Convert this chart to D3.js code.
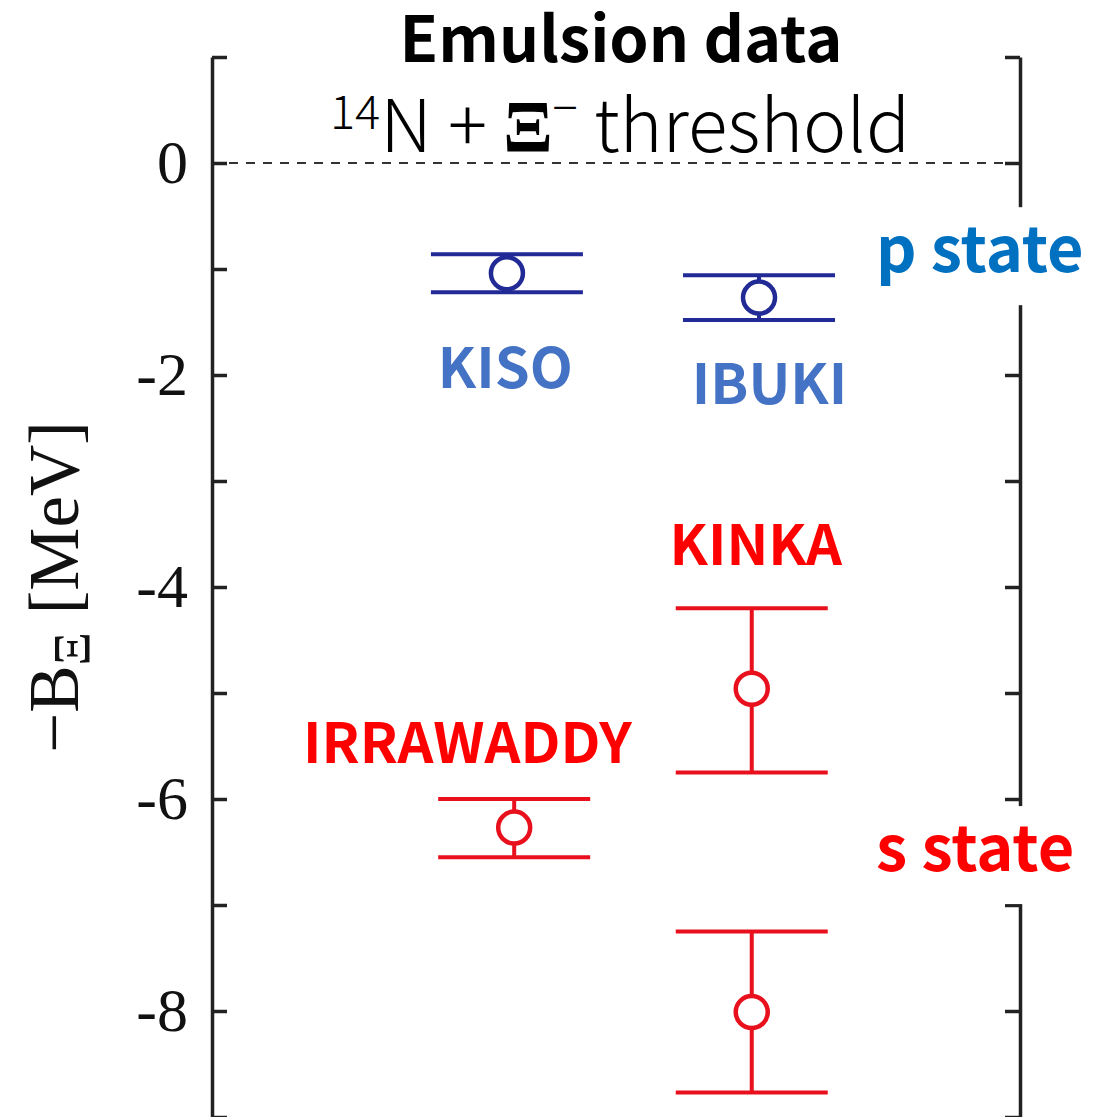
<!DOCTYPE html>
<html>
<head>
<meta charset="utf-8">
<script src="https://cdn.jsdelivr.net/npm/d3@7"></script>
<style>
  html, body { margin: 0; padding: 0; background: #fff; }
  svg { display: block; }
</style>
</head>
<body>
<svg id="chart" width="1099" height="1117"></svg>
<script>
// Xi-hypernuclear events in 14N (emulsion), binding energies with errors
const experiments = ["KISO", "IBUKI", "IRRAWADDY", "KINKA", ""];
const states      = ["p", "p", "s", "s", "s"];
const column      = [3.65, 6.77, 3.74, 6.68, 6.68];   // horizontal slot of each event
const energy      = [-1.04, -1.27, -6.27, -4.96, -8.01];
const upper       = [-0.86, -1.06, -6.00, -4.20, -7.25];
const lower       = [-1.22, -1.48, -6.55, -5.75, -8.77];

const yTickValues  = [1, 0, -1, -2, -3, -4, -5, -6, -7, -8, -9];
const yTickLabels  = [0, -2, -4, -6, -8];
const stateNames   = ["p state", "s state"];
const stateLevels  = [-1.03, -6.68];

const W = 1099, H = 1117;
const svg = d3.select("#chart");

const x = d3.scaleLinear().domain([0, 10]).range([212, 1020]);
const y = d3.scaleLinear().domain([-9, 1]).range([1117, 57]);

const colors = { p: "#222a96", s: "#e8101c" };
const labelColors = { p: "#4472c4", s: "#ff0000" };
const stateColors = { "p state": "#0070c0", "s state": "#ff0000" };

const AXIS = "#222";
const labelFont = "'Noto Sans CJK JP', 'Noto Sans', sans-serif";

// threshold line at zero binding energy
svg.append("line")
  .attr("x1", x(0)).attr("x2", x(10))
  .attr("y1", y(0)).attr("y2", y(0))
  .attr("stroke", "#333").attr("stroke-width", 2.2)
  .attr("stroke-dasharray", "9,8");

// left axis with inward ticks, labels on even values
const left = svg.append("g")
  .attr("transform", `translate(${x(0)},0)`)
  .call(d3.axisLeft(y)
    .tickValues(yTickValues)
    .tickSizeInner(-15).tickSizeOuter(0)
    .tickPadding(24)
    .tickFormat(d => yTickLabels.includes(d) ? String(d) : ""));

// right axis, ticks only
const right = svg.append("g")
  .attr("transform", `translate(${x(10)},0)`)
  .call(d3.axisRight(y)
    .tickValues(yTickValues)
    .tickSizeInner(-15).tickSizeOuter(0)
    .tickFormat(() => ""));

[left, right].forEach(g => {
  g.select(".domain").attr("stroke", AXIS).attr("stroke-width", 3.5);
  g.selectAll(".tick line").attr("stroke", AXIS).attr("stroke-width", 3.5);
  g.selectAll(".tick text")
    .attr("fill", "#111")
    .style("font-family", "'Liberation Serif', 'Times New Roman', serif")
    .style("font-size", "62px");
});

// y-axis title
const yt = svg.append("text")
  .attr("transform", `translate(78,${y(-4)}) rotate(-90)`)
  .attr("text-anchor", "middle")
  .attr("fill", "#111")
  .style("font-family", "'Liberation Serif', 'Times New Roman', serif")
  .style("font-size", "71px");
yt.append("tspan").text("\u2212B");
yt.append("tspan").attr("dy", 12).style("font-size", "52px").text("\u039E");
yt.append("tspan").attr("dy", -12).text(" [MeV]");

// error bars
const points = d3.range(energy.length).map(i => ({
  name: experiments[i], state: states[i], col: column[i],
  v: energy[i], hi: upper[i], lo: lower[i]
}));
const CAP = 76;

const bars = svg.append("g").selectAll("g").data(points).join("g")
  .attr("stroke", d => colors[d.state])
  .attr("stroke-width", 4);

bars.append("line")
  .attr("x1", d => x(d.col)).attr("x2", d => x(d.col))
  .attr("y1", d => y(d.hi)).attr("y2", d => y(d.lo));
bars.append("line")
  .attr("x1", d => x(d.col) - CAP).attr("x2", d => x(d.col) + CAP)
  .attr("y1", d => y(d.hi)).attr("y2", d => y(d.hi));
bars.append("line")
  .attr("x1", d => x(d.col) - CAP).attr("x2", d => x(d.col) + CAP)
  .attr("y1", d => y(d.lo)).attr("y2", d => y(d.lo));
bars.append("circle")
  .attr("cx", d => x(d.col)).attr("cy", d => y(d.v))
  .attr("r", 16)
  .attr("fill", "#fff")
  .attr("stroke-width", 4.5);

// event names: placed under p-state bars, above s-state bars
const namePlacement = {
  KISO:      { col: 3.63, level: -2.12 },
  IBUKI:     { col: 6.90, level: -2.27 },
  IRRAWADDY: { col: 3.16, level: -5.66 },
  KINKA:     { col: 6.73, level: -3.79 }
};
svg.append("g").selectAll("text")
  .data(points.filter(d => d.name))
  .join("text")
  .attr("x", d => x(namePlacement[d.name].col))
  .attr("y", d => y(namePlacement[d.name].level))
  .attr("text-anchor", "middle")
  .attr("fill", d => labelColors[d.state])
  .style("font-family", labelFont)
  .style("font-weight", 700)
  .style("font-size", "56px")
  .text(d => d.name);

// state labels on a white patch over the right axis
const st = svg.append("g").selectAll("g")
  .data(stateNames.map((n, i) => ({ n, lv: stateLevels[i] })))
  .join("g");
st.append("rect")
  .attr("x", 866).attr("width", W - 866)
  .attr("y", d => y(d.lv) - 65).attr("height", 98)
  .attr("fill", "#fff");
st.append("text")
  .attr("x", 876)
  .attr("y", d => y(d.lv))
  .attr("fill", d => stateColors[d.n])
  .style("font-family", labelFont)
  .style("font-weight", 700)
  .style("font-size", "63px")
  .text(d => d.n);

// headings
svg.append("text")
  .attr("x", 621).attr("y", 62)
  .attr("text-anchor", "middle")
  .attr("fill", "#000")
  .style("font-family", labelFont)
  .style("font-weight", 700)
  .style("font-size", "63px")
  .text("Emulsion data");

const th = svg.append("text")
  .attr("x", 620).attr("y", 152)
  .attr("text-anchor", "middle")
  .attr("fill", "#000")
  .style("font-family", labelFont)
  .style("font-weight", 200)
  .style("font-size", "73px");
th.append("tspan").attr("dy", -23).style("font-size", "47px").text("14");
th.append("tspan").attr("dy", 23).text("N + ");
th.append("tspan").style("font-family", "'Liberation Serif', serif").style("font-weight", 700).text("\u039E");
th.append("tspan").attr("dy", -27).style("font-size", "47px").text("\u2212");
th.append("tspan").attr("dy", 27).text(" threshold");
</script>
</body>
</html>
